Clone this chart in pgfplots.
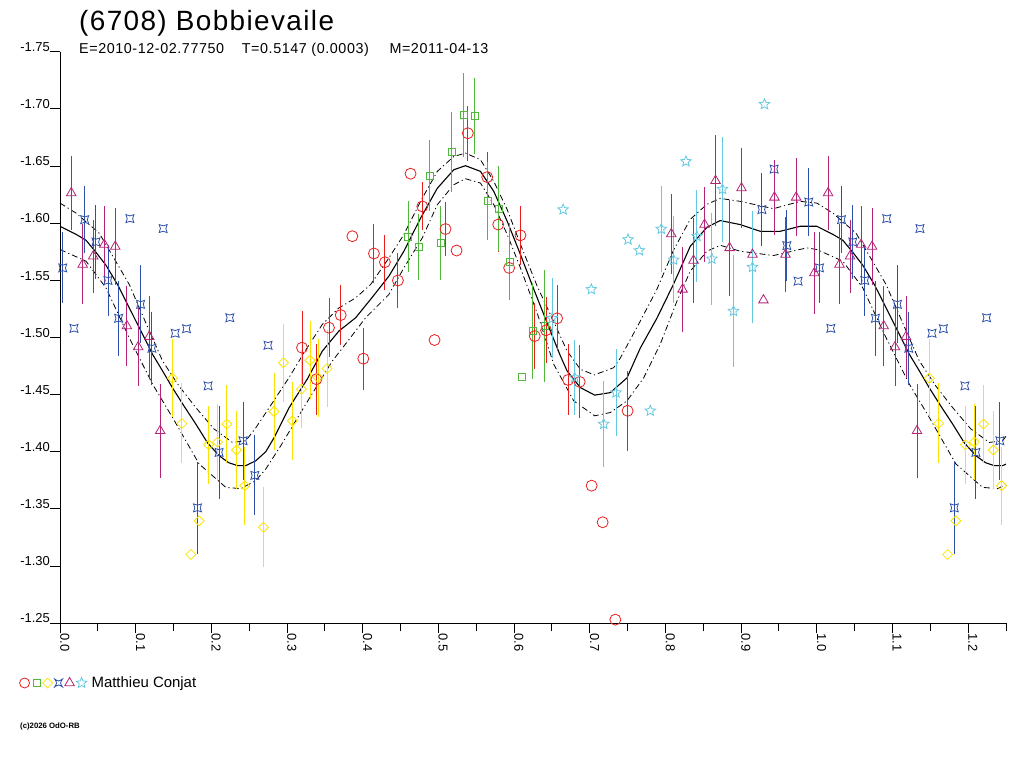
\documentclass[border=0pt]{standalone}
\usepackage{pgfplots}
\pgfplotsset{compat=1.18}
\usepackage{pgfplotstable}
\usepackage{fontspec}
\setmainfont{Liberation Sans}
\newfontfamily\titlefont[LetterSpace=5]{Liberation Sans}
\newfontfamily\subfont[LetterSpace=4]{Liberation Sans}

\definecolor{cred}{RGB}{235,30,30}
\definecolor{cgreen}{RGB}{80,185,60}
\definecolor{cyellow}{RGB}{250,228,0}
\definecolor{cblue}{RGB}{45,80,170}
\definecolor{cpurple}{RGB}{180,35,120}
\definecolor{ccyan}{RGB}{100,200,225}

\pgfdeclareplotmark{cstar}{%
 \pgfpathmoveto{\pgfqpoint{-\pgfplotmarksize}{-\pgfplotmarksize}}%
 \pgfpathquadraticcurveto{\pgfqpoint{0pt}{-0.35\pgfplotmarksize}}{\pgfqpoint{\pgfplotmarksize}{-\pgfplotmarksize}}%
 \pgfpathquadraticcurveto{\pgfqpoint{0.35\pgfplotmarksize}{0pt}}{\pgfqpoint{\pgfplotmarksize}{\pgfplotmarksize}}%
 \pgfpathquadraticcurveto{\pgfqpoint{0pt}{0.35\pgfplotmarksize}}{\pgfqpoint{-\pgfplotmarksize}{\pgfplotmarksize}}%
 \pgfpathquadraticcurveto{\pgfqpoint{-0.35\pgfplotmarksize}{0pt}}{\pgfqpoint{-\pgfplotmarksize}{-\pgfplotmarksize}}%
 \pgfpathclose\pgfusepathqstroke}
\pgfdeclareplotmark{ostar}{%
 \pgfpathmoveto{\pgfpointpolar{90}{\pgfplotmarksize}}%
 \pgfpathlineto{\pgfpointpolar{126}{0.45\pgfplotmarksize}}%
 \pgfpathlineto{\pgfpointpolar{162}{\pgfplotmarksize}}%
 \pgfpathlineto{\pgfpointpolar{198}{0.45\pgfplotmarksize}}%
 \pgfpathlineto{\pgfpointpolar{234}{\pgfplotmarksize}}%
 \pgfpathlineto{\pgfpointpolar{270}{0.45\pgfplotmarksize}}%
 \pgfpathlineto{\pgfpointpolar{306}{\pgfplotmarksize}}%
 \pgfpathlineto{\pgfpointpolar{342}{0.45\pgfplotmarksize}}%
 \pgfpathlineto{\pgfpointpolar{18}{\pgfplotmarksize}}%
 \pgfpathlineto{\pgfpointpolar{54}{0.45\pgfplotmarksize}}%
 \pgfpathclose\pgfusepathqstroke}
\pgfdeclareplotmark{dmd}{%
 \pgfpathmoveto{\pgfqpoint{0pt}{\pgfplotmarksize}}%
 \pgfpathlineto{\pgfqpoint{\pgfplotmarksize}{0pt}}%
 \pgfpathlineto{\pgfqpoint{0pt}{-\pgfplotmarksize}}%
 \pgfpathlineto{\pgfqpoint{-\pgfplotmarksize}{0pt}}%
 \pgfpathclose\pgfusepathqstroke}

\pgfplotsset{
 obs/.style={only marks, line width=0.8bp, mark options={solid},
   error bars/y dir=both, error bars/y explicit, error bars/error mark=none,
   error bars/error bar style={line width=0.9bp}},
 band/.style={black, line width=0.8bp, dash pattern=on 6bp off 3bp on 1.2bp off 3bp},
}

\pgfplotstableread{
x y e
0.3198 -1.4911 0.032
0.3388 -1.4635 0.031
0.3554 -1.5086 0.026
0.3709 -1.5196 0.026
0.3863 -1.5886 0
0.4008 -1.4815 0.027
0.4148 -1.5735 0.026
0.4293 -1.5659 0.024
0.4465 -1.5499 0.024
0.4632 -1.6433 0
0.4787 -1.6147 0.021
0.4949 -1.4978 0
0.5094 -1.5949 0.024
0.5240 -1.5761 0
0.5389 -1.6787 0.024
0.5645 -1.6403 0.022
0.5790 -1.5988 0.024
0.5935 -1.5609 0.024
0.6084 -1.5894 0.026
0.6273 -1.5013 0.029
0.6423 -1.5063 0.029
0.6569 -1.5168 0.029
0.6714 -1.4629 0.031
0.6867 -1.4612 0.032
0.7025 -1.3704 0
0.7170 -1.3384 0
0.7338 -1.2532 0
0.7500 -1.4359 0.035
}\tred
\pgfplotstableread{
x y e
0.4602 -1.5880 0.031
0.4742 -1.5792 0.029
0.4883 -1.6415 0.031
0.5032 -1.5827 0.032
0.5178 -1.6621 0.035
0.5336 -1.6948 0.037
0.5477 -1.6939 0.033
0.5653 -1.6197 0.034
0.5798 -1.6127 0.037
0.5943 -1.5665 0.034
0.6097 -1.4658 0
0.6247 -1.5057 0.042
0.6405 -1.5103 0.049
}\tgreen
\pgfplotstableread{
x y e
0.1487 -1.4644 0.034
0.1610 -1.4248 0.035
0.1729 -1.3102 0
0.1838 -1.3396 0
0.1963 -1.4062 0.034
0.2081 -1.4085 0.033
0.2204 -1.4243 0.034
0.2332 -1.4016 0.034
0.2442 -1.3704 0.034
0.2688 -1.3340 0.035
0.2828 -1.4353 0.034
0.2952 -1.4780 0.034
0.3071 -1.4271 0.034
0.3190 -1.4548 0.034
0.3303 -1.4801 0.034
0.3409 -1.4649 0.034
0.3528 -1.4728 0.034
}\tyellow
\pgfplotstableread{
x y e
0.0036 -1.5609 0.031
0.0185 -1.5080 0
0.0326 -1.6031 0.029
0.0475 -1.5836 0.032
0.0634 -1.5499 0.031
0.0775 -1.5168 0.033
0.0924 -1.6040 0
0.1065 -1.5290 0.034
0.1214 -1.4906 0.032
0.1363 -1.5953 0
0.1522 -1.5037 0
0.1672 -1.5077 0
0.1817 -1.3510 0.040
0.1957 -1.4577 0
0.2102 -1.3995 0.041
0.2244 -1.5173 0
0.2419 -1.4097 0.034
0.2574 -1.3794 0.035
0.2749 -1.4932 0
0.9274 -1.6119 0.032
0.9436 -1.6473 0
0.9604 -1.5804 0.031
0.9753 -1.5493 0
0.9894 -1.6185 0.030
}\tblue
\pgfplotstableread{
x y e
0.0149 -1.6264 0.032
0.0300 -1.5639 0.035
0.0439 -1.5711 0.032
0.0585 -1.5813 0.034
0.0730 -1.5796 0.034
0.0884 -1.5100 0.035
0.1033 -1.4917 0.034
0.1179 -1.5007 0.036
0.1324 -1.4184 0.041
0.8077 -1.5906 0.035
0.8226 -1.5421 0.037
0.8371 -1.5674 0.037
0.8517 -1.5988 0.033
0.8662 -1.6372 0.040
0.8847 -1.5784 0.042
0.9005 -1.6307 0.035
0.9150 -1.5726 0
0.9295 -1.5327 0
0.9440 -1.6226 0.033
0.9586 -1.5726 0.033
0.9727 -1.6226 0.034
0.9968 -1.5565 0.036
}\tpurple
\pgfplotstableread{
x y e
0.6503 -1.5168 0.035
0.6648 -1.6119 0
0.6801 -1.4649 0.033
0.7021 -1.5421 0
0.7184 -1.4243 0.038
0.7347 -1.4518 0.038
0.7506 -1.5857 0
0.7655 -1.5761 0
0.7800 -1.4359 0
0.7945 -1.5949 0.038
0.8108 -1.5679 0.038
0.8271 -1.6540 0
0.8416 -1.5886 0.040
0.8614 -1.5688 0.040
0.8754 -1.6298 0.046
0.8899 -1.5231 0.049
0.9150 -1.5615 0.049
0.9308 -1.7040 0
}\tcyan

\pgfplotstableread{
x y
0.0000 -1.5973
0.0211 -1.5903
0.0343 -1.5851
0.0475 -1.5746
0.0607 -1.5633
0.0765 -1.5458
0.0915 -1.5260
0.1069 -1.5057
0.1223 -1.4853
0.1355 -1.4708
0.1487 -1.4559
0.1637 -1.4402
0.1795 -1.4243
0.1949 -1.4079
0.2102 -1.3966
0.2230 -1.3905
0.2345 -1.3879
0.2455 -1.3879
0.2587 -1.3922
0.2719 -1.4001
0.2828 -1.4123
0.3026 -1.4385
0.3269 -1.4638
0.3467 -1.4882
0.3686 -1.5057
0.3907 -1.5173
0.4127 -1.5353
0.4346 -1.5537
0.4544 -1.5755
0.4764 -1.6043
0.4985 -1.6305
0.5204 -1.6468
0.5358 -1.6503
0.5556 -1.6453
0.5732 -1.6278
0.5909 -1.6017
0.6084 -1.5726
0.6260 -1.5423
0.6437 -1.5127
0.6612 -1.4839
0.6700 -1.4708
0.6876 -1.4562
0.7065 -1.4496
0.7272 -1.4518
0.7492 -1.4647
0.7668 -1.4908
0.7888 -1.5170
0.8107 -1.5467
0.8328 -1.5798
0.8548 -1.5964
0.8724 -1.6023
0.8988 -1.5988
0.9252 -1.5929
0.9516 -1.5929
0.9780 -1.5973
1.0000 -1.5973
1.0211 -1.5903
1.0343 -1.5851
1.0475 -1.5746
1.0607 -1.5633
1.0765 -1.5458
1.0915 -1.5260
1.1069 -1.5057
1.1223 -1.4853
1.1355 -1.4708
1.1487 -1.4559
1.1637 -1.4402
1.1795 -1.4243
1.1949 -1.4079
1.2102 -1.3966
1.2230 -1.3905
1.2345 -1.3879
1.2455 -1.3879
1.2500 -1.3893
}\tfit
\pgfplotstableread{
x y
0.0000 -1.6176
0.0211 -1.6089
0.0519 -1.5912
0.0713 -1.5694
0.0915 -1.5464
0.1135 -1.5127
0.1355 -1.4795
0.1571 -1.4577
0.1795 -1.4387
0.2032 -1.4202
0.2279 -1.4082
0.2455 -1.4097
0.2587 -1.4210
0.2798 -1.4420
0.3026 -1.4649
0.3247 -1.4891
0.3467 -1.5115
0.3682 -1.5257
0.3907 -1.5347
0.4105 -1.5464
0.4346 -1.5696
0.4544 -1.5901
0.4764 -1.6191
0.4985 -1.6453
0.5204 -1.6584
0.5358 -1.6613
0.5556 -1.6555
0.5732 -1.6366
0.5909 -1.6119
0.6084 -1.5816
0.6305 -1.5449
0.6520 -1.5144
0.6700 -1.4882
0.6876 -1.4722
0.7061 -1.4673
0.7316 -1.4736
0.7404 -1.4821
0.7668 -1.5144
0.7888 -1.5423
0.8107 -1.5764
0.8328 -1.6034
0.8548 -1.6165
0.8724 -1.6217
0.8988 -1.6191
0.9427 -1.6127
0.9780 -1.6191
1.0000 -1.6176
1.0211 -1.6089
1.0519 -1.5912
1.0713 -1.5694
1.0915 -1.5464
1.1135 -1.5127
1.1355 -1.4795
1.1571 -1.4577
1.1795 -1.4387
1.2032 -1.4202
1.2279 -1.4082
1.2455 -1.4097
1.2500 -1.4135
}\tup
\pgfplotstableread{
x y
0.0000 -1.5770
0.0343 -1.5668
0.0607 -1.5435
0.0915 -1.4998
0.1223 -1.4592
0.1487 -1.4300
0.1838 -1.3894
0.2191 -1.3689
0.2389 -1.3678
0.2587 -1.3748
0.2719 -1.3850
0.2917 -1.4053
0.3154 -1.4315
0.3379 -1.4559
0.3599 -1.4795
0.3814 -1.4978
0.4038 -1.5173
0.4346 -1.5377
0.4544 -1.5609
0.4787 -1.5871
0.4985 -1.6162
0.5204 -1.6337
0.5358 -1.6389
0.5556 -1.6351
0.5732 -1.6162
0.5909 -1.5901
0.6084 -1.5609
0.6305 -1.5214
0.6524 -1.4766
0.6788 -1.4446
0.7065 -1.4315
0.7272 -1.4344
0.7492 -1.4446
0.7712 -1.4647
0.7932 -1.4943
0.8152 -1.5318
0.8328 -1.5580
0.8548 -1.5755
0.8724 -1.5807
0.8988 -1.5755
0.9427 -1.5717
0.9868 -1.5784
1.0000 -1.5770
1.0343 -1.5668
1.0607 -1.5435
1.0915 -1.4998
1.1223 -1.4592
1.1487 -1.4300
1.1838 -1.3894
1.2191 -1.3689
1.2389 -1.3678
1.2500 -1.3717
}\tlow

\begin{document}
\begin{tikzpicture}
\useasboundingbox (0,0) rectangle (1024bp,-768bp);
\node[anchor=base west, inner sep=0pt] at (79bp,-30bp) {\titlefont\fontsize{28}{30}\selectfont (6708) Bobbievaile};
\node[anchor=base west, inner sep=0pt] at (79bp,-53.3bp) {\subfont\fontsize{14.4}{16}\selectfont E=2010-12-02.77750};
\node[anchor=base west, inner sep=0pt] at (241.7bp,-53.3bp) {\subfont\fontsize{14.4}{16}\selectfont T=0.5147 (0.0003)};
\node[anchor=base west, inner sep=0pt] at (389.3bp,-53.3bp) {\subfont\fontsize{14.4}{16}\selectfont M=2011-04-13};
\node[anchor=base west, inner sep=0pt] at (20bp,-728bp) {\fontsize{7.8}{9}\selectfont\bfseries (c)2026 OdO-RB};
\begin{axis}[
 at={(533bp,-337.5bp)}, anchor=center,
 scale only axis, width=946bp, height=571.6bp,
 xmin=0, xmax=1.25, ymin=-1.75, ymax=-1.25, y dir=reverse,
 axis x line*=bottom, axis y line*=left,
 axis line style={line width=1bp, black},
 clip=false,
 xtick={0,0.1,0.2,0.3,0.4,0.5,0.6,0.7,0.8,0.9,1.0,1.1,1.2},
 xticklabels={0.0,0.1,0.2,0.3,0.4,0.5,0.6,0.7,0.8,0.9,1.0,1.1,1.2},
 minor xtick={0.05,0.15,0.25,0.35,0.45,0.55,0.65,0.75,0.85,0.95,1.05,1.15,1.25},
 ytick={-1.75,-1.70,-1.65,-1.60,-1.55,-1.50,-1.45,-1.40,-1.35,-1.30,-1.25},
 yticklabels={-1.75,-1.70,-1.65,-1.60,-1.55,-1.50,-1.45,-1.40,-1.35,-1.30,-1.25},
 tick align=outside, major tick length=10bp, minor tick length=8bp,
 every tick/.style={black, line width=1bp},
 ticklabel style={font=\fontsize{13}{15}\selectfont},
 xticklabel style={rotate=-90, anchor=south west, inner sep=0pt},
 yticklabel style={anchor=south east, inner sep=0pt},
 /pgf/number format/assume math mode=true,
 legend style={at={(axis cs:-0.0542,-1.1978)}, anchor=west,
   draw=none, fill=none, inner sep=0pt, font=\fontsize{15}{17}\selectfont},
 legend cell align=left,
]
\addplot[band, forget plot] table[x=x,y=y] {\tup};
\addplot[band, forget plot] table[x=x,y=y] {\tlow};
\addplot[black, line width=1.1bp, forget plot] table[x=x,y=y] {\tfit};

\addplot[obs, color=cred, mark=o, mark size=5.5bp, forget plot] table[x=x,y=y,y error=e] {\tred};
\addplot[obs, color=cgreen, mark=square, mark size=3.5bp, forget plot] table[x=x,y=y,y error=e] {\tgreen};
\addplot[obs, color=cyellow, mark=dmd, mark size=5bp, forget plot] table[x=x,y=y,y error=e] {\tyellow};
\addplot[obs, color=cyellow, mark=dmd, mark size=5bp, forget plot, restrict x to domain=1:1.25] table[x expr=\thisrow{x}+1,y=y,y error=e] {\tyellow};
\addplot[obs, color=cblue, mark=cstar, mark size=4bp, forget plot] table[x=x,y=y,y error=e] {\tblue};
\addplot[obs, color=cblue, mark=cstar, mark size=4bp, forget plot, restrict x to domain=1:1.25] table[x expr=\thisrow{x}+1,y=y,y error=e] {\tblue};
\addplot[obs, color=cpurple, mark=triangle, mark size=5.5bp, forget plot] table[x=x,y=y,y error=e] {\tpurple};
\addplot[obs, color=cpurple, mark=triangle, mark size=5.5bp, forget plot, restrict x to domain=1:1.25] table[x expr=\thisrow{x}+1,y=y,y error=e] {\tpurple};
\addplot[obs, color=ccyan, mark=ostar, mark size=5.5bp, forget plot] table[x=x,y=y,y error=e] {\tcyan};

\addlegendimage{legend image code/.code={%
  \draw[cred, line width=0.8bp] (5bp,0bp) circle[radius=5bp];
  \draw[cgreen, line width=0.8bp] (13.5bp,-3.5bp) rectangle (20.5bp,3.5bp);
  \draw[cyellow, line width=0.8bp] (28bp,5bp) -- (33bp,0bp) -- (28bp,-5bp) -- (23bp,0bp) -- cycle;
  \draw[cblue, line width=0.8bp] (35bp,-4bp) .. controls (39bp,-1.4bp) .. (43bp,-4bp) .. controls (40.4bp,0bp) .. (43bp,4bp) .. controls (39bp,1.4bp) .. (35bp,4bp) .. controls (37.6bp,0bp) .. cycle;
  \draw[cpurple, line width=0.8bp] (45.2bp,-2.75bp) -- (50bp,5.5bp) -- (54.8bp,-2.75bp) -- cycle;
  \draw[ccyan, line width=0.8bp] (62bp,0bp) +(90:5.5bp) -- +(126:2.5bp) -- +(162:5.5bp) -- +(198:2.5bp) -- +(234:5.5bp) -- +(270:2.5bp) -- +(306:5.5bp) -- +(342:2.5bp) -- +(18:5.5bp) -- +(54:2.5bp) -- cycle;
  \path[draw=none, fill=none] (0bp,-1bp) rectangle (70bp,1bp);
}}
\addlegendentry{Matthieu Conjat}
\end{axis}
\end{tikzpicture}
\end{document}
